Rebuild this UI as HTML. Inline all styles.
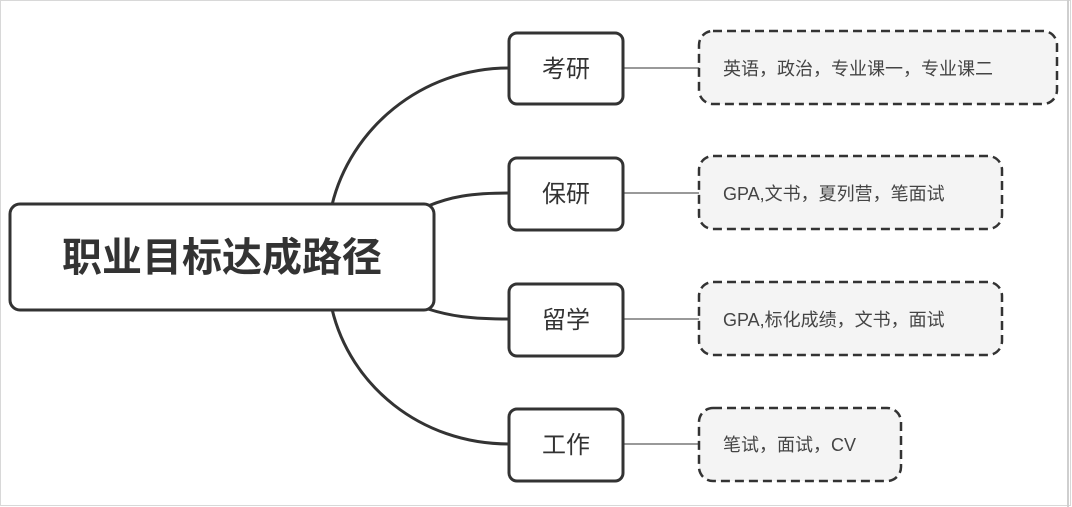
<!DOCTYPE html>
<html><head><meta charset="utf-8"><style>
body{margin:0;background:#fff;}
svg{display:block;}
text{font-family:"Liberation Sans","Noto Sans CJK SC",sans-serif;}
</style></head><body>
<svg width="1072" height="507" viewBox="0 0 1072 507" xmlns="http://www.w3.org/2000/svg">
<rect x="0.5" y="0.5" width="1070" height="505" fill="#fff" stroke="#d8d8d8"/>
<line x1="1068" y1="0" x2="1068" y2="507" stroke="#cfcfcf" stroke-width="2"/>
<g fill="none" stroke="#333" stroke-width="3">
<path d="M332,205 C350,130 420,68 509,68"/>
<path d="M332,309 C350,385 420,444 509,444"/>
<path d="M428,206 C450,197 470,193 509,193"/>
<path d="M428,309 C450,316 470,319 509,319"/>
</g>
<g stroke="#999" stroke-width="2">
<line x1="623" y1="68" x2="720" y2="68"/>
<line x1="623" y1="193" x2="720" y2="193"/>
<line x1="623" y1="319" x2="720" y2="319"/>
<line x1="623" y1="444" x2="720" y2="444"/>
</g>
<rect x="10" y="204" width="424" height="106" rx="10" fill="#fff" stroke="#333" stroke-width="3"/>
<text x="222" y="271" text-anchor="middle" font-size="40" font-weight="bold" fill="#333">职业目标达成路径</text>
<g fill="#fff" stroke="#333" stroke-width="3">
<rect x="509" y="33" width="114" height="71" rx="8"/>
<rect x="509" y="158" width="114" height="72" rx="8"/>
<rect x="509" y="284" width="114" height="72" rx="8"/>
<rect x="509" y="409" width="114" height="72" rx="8"/>
</g>
<g font-size="24" fill="#333" text-anchor="middle">
<text x="566" y="77">考研</text>
<text x="566" y="202">保研</text>
<text x="566" y="328">留学</text>
<text x="566" y="453">工作</text>
</g>
<g fill="#f4f4f4" stroke="#333" stroke-width="2.5" stroke-dasharray="9,5">
<rect x="699" y="31" width="358" height="73" rx="14"/>
<rect x="699" y="156" width="303" height="73" rx="14"/>
<rect x="699" y="282" width="303" height="73" rx="14"/>
<rect x="699" y="408" width="202" height="73" rx="14"/>
</g>
<g font-size="18" fill="#444">
<text x="723" y="75">英语，政治，专业课一，专业课二</text>
<text x="723" y="200">GPA,文书，夏列营，笔面试</text>
<text x="723" y="326">GPA,标化成绩，文书，面试</text>
<text x="723" y="451">笔试，面试，CV</text>
</g>
</svg>
</body></html>
